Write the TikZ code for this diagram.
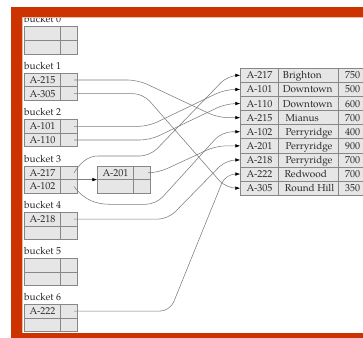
\documentclass[tikz,border=0pt]{standalone}
\usepackage{fontspec}
\setmainfont{TeX Gyre Pagella}
\usetikzlibrary{arrows.meta}

\definecolor{framecol}{RGB}{204,51,0}
\definecolor{cellfill}{RGB}{230,230,230}
\definecolor{cellline}{RGB}{135,135,135}
\definecolor{linkcol}{RGB}{125,125,125}
\definecolor{txt}{RGB}{40,40,40}
\newcommand\cellfont{\fontsize{10bp}{12bp}\selectfont}

\tikzset{
  cellbase/.style={draw=cellline, fill=cellfill, line width=0.7bp, inner sep=0pt,
    outer sep=0pt, minimum height=13.6bp, text height=6.9bp, text depth=0pt,
    font=\cellfont, text=txt},
  keycell/.style={cellbase, minimum width=36.4bp},
  ptrcell/.style={cellbase, minimum width=16.6bp},
  tcell/.style={cellbase, minimum height=14.1bp},
  ttext/.style={anchor=west, inner sep=0pt, text height=6.9bp, text depth=0pt,
    font=\cellfont, text=txt},
  bucketlabel/.style={anchor=base west, inner sep=0pt, font=\cellfont, text=txt},
  tip/.style={-{Latex[color=black,length=5bp,width=3.6bp]}},
  link/.style={draw=linkcol, line width=0.55bp, rounded corners=10bp, tip},
}

\begin{document}
\begin{tikzpicture}[x=1bp, y=-1bp]
\useasboundingbox (0,0) rectangle (363,338);
\fill[white] (0,0) rectangle (363,338);

% hash buckets: two (key, pointer) slots each
\foreach \bi/\T/\ka/\kb in {0/26.7/{}/{}, 1/73.2/A-215/A-305, 2/119.6/A-101/A-110,
    3/166/A-217/A-102, 4/212.3/A-218/{}, 5/258.6/{}/{}, 6/304.3/A-222/{}} {
  \node[bucketlabel] (lab\bi) at (24,\T-4) {bucket \bi};
  \node[keycell] (k\bi a) at (42.5,\T+6.8) {\ka};
  \node[ptrcell] (p\bi a) at (69.0,\T+6.8) {};
  \node[keycell] (k\bi b) at (42.5,\T+20.4) {\kb};
  \node[ptrcell] (p\bi b) at (69.0,\T+20.4) {};
}

% overflow bucket chained from bucket 3
\node[keycell] (o1a) at (115.5,172.8) {A-201};
\node[ptrcell] (q1a) at (142.0,172.8) {};
\node[keycell] (o1b) at (115.5,186.4) {};
\node[ptrcell] (q1b) at (142.0,186.4) {};

% account file
\foreach \r/\acc/\br/\bx/\bal in {1/A-217/Brighton/282.7/750, 2/A-101/Downtown/282.7/500,
    3/A-110/Downtown/282.7/600, 4/A-215/Mianus/285.3/700, 5/A-102/Perryridge/285.3/400,
    6/A-201/Perryridge/285.3/900, 7/A-218/Perryridge/285.3/700, 8/A-222/Redwood/284.3/700,
    9/A-305/Round Hill/284.7/350} {
  \node[tcell, minimum width=38.4bp] (ta\r) at (259.5,68.3+14.1*\r-7.05) {\acc};
  \node[tcell, minimum width=59.6bp] (tb\r) at (308.5,68.3+14.1*\r-7.05) {};
  \node[tcell, minimum width=25.8bp] (tc\r) at (351.2,68.3+14.1*\r-7.05) {};
  \node[ttext] (tn\r) at (\bx,68.3+14.1*\r-7.05) {\br};
  \node[ttext] (tv\r) at (345,68.3+14.1*\r-7.05) {\bal};
}

% bucket 3 overflow chain
\draw[draw=linkcol, line width=0.55bp, tip] (p3a.south east) -- (o1a.south west);

% pointers from bucket slots to records
\draw[link] ([xshift=5bp]p1a.center) -- (138,80) -- (218,117.65) -- (ta4.west);
\draw[link] ([xshift=5bp]p1b.center) -- (143,93.6) -- (226,188.15) -- (ta9.west);
\draw[link] ([xshift=5bp]p2a.center) -- (148,126.4) -- (225,89.45) -- (ta2.west);
\draw[link] ([xshift=5bp]p2b.center) -- (150,140) -- (226,103.55) -- (ta3.west);
\draw[link] ([xshift=5bp]p3a.center) .. controls (82,160) and (90,156) .. (108,156)
  -- (150,156) -- (228,75.35) -- (ta1.west);
\draw[link] ([xshift=5bp]p3b.center) .. controls (84,200) and (96,204.3) .. (120,204.3)
  -- (156,204.3) -- (222,131.75) -- (ta5.west);
\draw[link] (q1a.east) -- (158,172.8) -- (216,145.85) -- (ta6.west);
\draw[link] ([xshift=5bp]p4a.center) -- (168,219.1) -- (226,159.95) -- (ta7.west);
\draw[link] ([xshift=5bp]p6a.center) -- (170,311.1) -- (225.5,174.05) -- (ta8.west);

% slide frame
\draw[line width=10.5bp, framecol] (16.25,12) rectangle (420,338.5);
\draw[line width=0.8bp, framecol!35] (21.9,332.85) -- (21.9,17.65) -- (420,17.65);
\end{tikzpicture}
\end{document}
